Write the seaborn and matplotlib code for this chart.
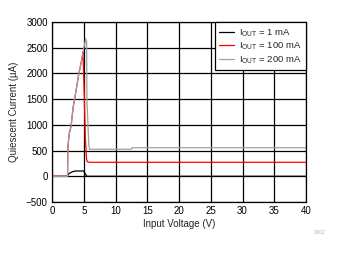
import matplotlib
matplotlib.use("Agg")
import matplotlib.pyplot as plt
import seaborn as sns
import pandas as pd

# Data
black_x = [0, 2.45, 2.5, 2.75, 3.25, 3.77, 4.98, 5.14, 5.35, 5.5, 40]
black_y = [0, 0, 30, 57, 90, 103, 103, 70, 25, 0, 0]

red_x = [0, 2.45, 2.5, 2.72, 2.99, 3.35, 3.67, 3.93, 4.19, 4.46, 4.72, 4.88, 4.95, 5.09, 5.24, 5.45, 5.6, 6.0, 40]
red_y = [0, 0, 570, 836, 965, 1353, 1580, 1775, 1970, 2131, 2294, 2420, 2131, 1548, 770, 317, 280, 272, 272]

gray_x = [0, 2.45, 2.5, 2.72, 2.99, 3.35, 3.67, 3.93, 4.19, 4.46, 4.72, 4.98, 5.2, 5.3, 5.45, 5.5, 5.8, 5.9, 12.5, 12.6, 40]
gray_y = [0, 0, 570, 836, 965, 1353, 1580, 1775, 1970, 2131, 2294, 2489, 2600, 2680, 2620, 1500, 600, 525, 525, 555, 555]

labels = [r'I$_{\mathregular{OUT}}$ = 1 mA',
          r'I$_{\mathregular{OUT}}$ = 100 mA',
          r'I$_{\mathregular{OUT}}$ = 200 mA']
colors = ['#000000', '#ff0000', '#a0a0a0']

x_ticks = [0, 5, 10, 15, 20, 25, 30, 35, 40]
y_ticks = [-500, 0, 500, 1000, 1500, 2000, 2500, 3000]

frames = []
for lab, xs, ys in zip(labels, [black_x, red_x, gray_x], [black_y, red_y, gray_y]):
    frames.append(pd.DataFrame({'x': xs, 'y': ys, 'series': lab}))
df = pd.concat(frames, ignore_index=True)

sns.set_style('white')
plt.rcParams['font.family'] = ['Liberation Sans', 'DejaVu Sans']
plt.rcParams['mathtext.fontset'] = 'custom'
plt.rcParams['mathtext.rm'] = 'Liberation Sans'

fig = plt.figure(figsize=(3.4, 2.54), dpi=100)
ax = fig.add_axes([52/340, 1-202/254, (306-52)/340, (202-22)/254])

sns.lineplot(data=df, x='x', y='y', hue='series', palette=dict(zip(labels, colors)),
             sort=False, estimator=None, linewidth=0.9, ax=ax, legend=True)

ax.set_xlim(0, 40)
ax.set_ylim(-500, 3000)
ax.set_xticks(x_ticks)
ax.set_yticks(y_ticks)
ax.grid(True, color='black', linewidth=0.9)
ax.set_axisbelow(True)
for s in ax.spines.values():
    s.set_color('black')
    s.set_linewidth(0.9)
ax.tick_params(axis='both', length=0, labelsize=7, pad=3, colors='black')
ax.set_xlabel('Input Voltage (V)', fontsize=7, labelpad=2)
ax.set_ylabel('Quiescent Current (µA)', fontsize=7, labelpad=5)

leg = ax.legend(loc='upper right', borderaxespad=0, fontsize=6.8, frameon=True,
                fancybox=False, handlelength=1.6, handletextpad=0.5,
                labelspacing=0.1, borderpad=0.45)
leg.get_frame().set_edgecolor('black')
leg.get_frame().set_linewidth(0.9)
leg.get_frame().set_alpha(1)

fig.text(319/340, 1-233/254, 'D002', fontsize=3.5, color='#b0b0b0', ha='center', va='center')

fig.savefig('out.png', dpi=100)
